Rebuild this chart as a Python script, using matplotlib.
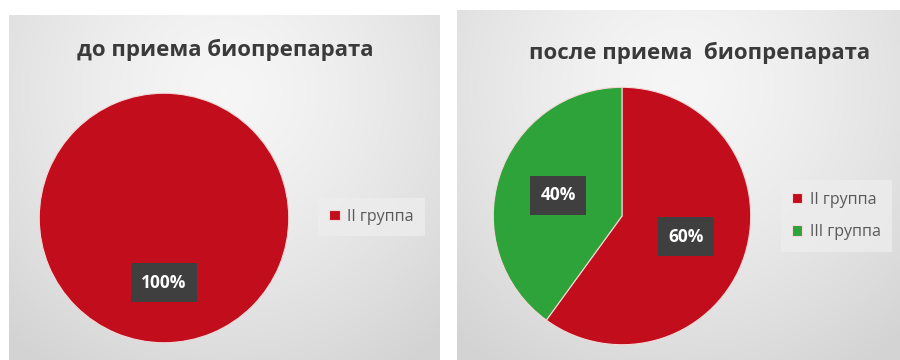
import numpy as np
import matplotlib.pyplot as plt

# data
groups_before = ["II группа"]
values_before = [100]
groups_after = ["II группа", "III группа"]
values_after = [60, 40]
titles = ["до приема биопрепарата", "после приема  биопрепарата"]

RED = "#C20E1C"
GREEN = "#2EA339"
FONT = ["Open Sans", "DejaVu Sans"]

W, H = 900, 360
fig = plt.figure(figsize=(W / 100, H / 100), dpi=100)
fig.patch.set_facecolor("white")


def px_axes(x, y_top, w, h):
    # axes placed in pixel units, y measured from the top of the image
    return fig.add_axes([x / W, (H - y_top - h) / H, w / W, h / H])


def panel_bg(x, y_top, w, h):
    ax = px_axes(x, y_top, w, h)
    ny, nx = 200, 200
    yy, xx = np.mgrid[0:1:ny * 1j, 0:1:nx * 1j]
    r = np.sqrt(((xx - 0.5) / 0.75) ** 2 + ((yy - 0.22) / 0.95) ** 2)
    r = np.clip(r, 0, 1)
    shade = 0.965 - 0.135 * r ** 1.4
    img = np.dstack([shade, shade, shade])
    ax.imshow(img, extent=[0, 1, 0, 1], origin="upper", aspect="auto")
    ax.set_axis_off()
    return ax


def draw_pie(ax, values, labels, colors, title, title_xy, legend_anchor):
    wedges, _, autotexts = ax.pie(
        values, colors=colors, startangle=90, counterclock=False,
        autopct="%1.0f%%", pctdistance=0.52,
        wedgeprops=dict(edgecolor="#F3D9D9", linewidth=0.8),
    )
    for t in autotexts:
        t.set_color("white")
        t.set_fontsize(12.5)
        t.set_fontweight("bold")
        t.set_family(FONT)
        t.set_bbox(dict(boxstyle="square,pad=0.6", facecolor="#3F3F3F",
                        edgecolor="none"))
    ax.set_xlim(-1.01, 1.01)
    ax.set_ylim(-1.01, 1.01)
    ax.set_aspect("equal")
    leg = ax.legend(wedges, labels, loc="center left",
                    bbox_to_anchor=legend_anchor, frameon=True,
                    fancybox=False, handlelength=0.65, handleheight=0.65,
                    handletextpad=0.45, labelspacing=1.05, borderpad=0.7,
                    prop=dict(family=FONT, size=11.5))
    leg.get_frame().set_facecolor("#EDEDED")
    leg.get_frame().set_edgecolor("none")
    for t in leg.get_texts():
        t.set_color("#595959")
    fig.text(title_xy[0] / W, 1 - title_xy[1] / H, title, ha="center",
             va="center", fontsize=16, fontweight="bold", color="#3A3A3A",
             family=FONT)


panel_bg(9, 15, 431, 345)
panel_bg(457, 10, 443, 350)

ax1 = px_axes(38, 92, 252, 252)
draw_pie(ax1, values_before, groups_before, [RED], titles[0], (225, 50),
         (1.08, 0.505))

ax2 = px_axes(492, 86, 260, 260)
draw_pie(ax2, values_after, groups_after, [RED, GREEN], titles[1], (700, 53),
         (1.08, 0.5))

fig.savefig("out.png", dpi=100)
